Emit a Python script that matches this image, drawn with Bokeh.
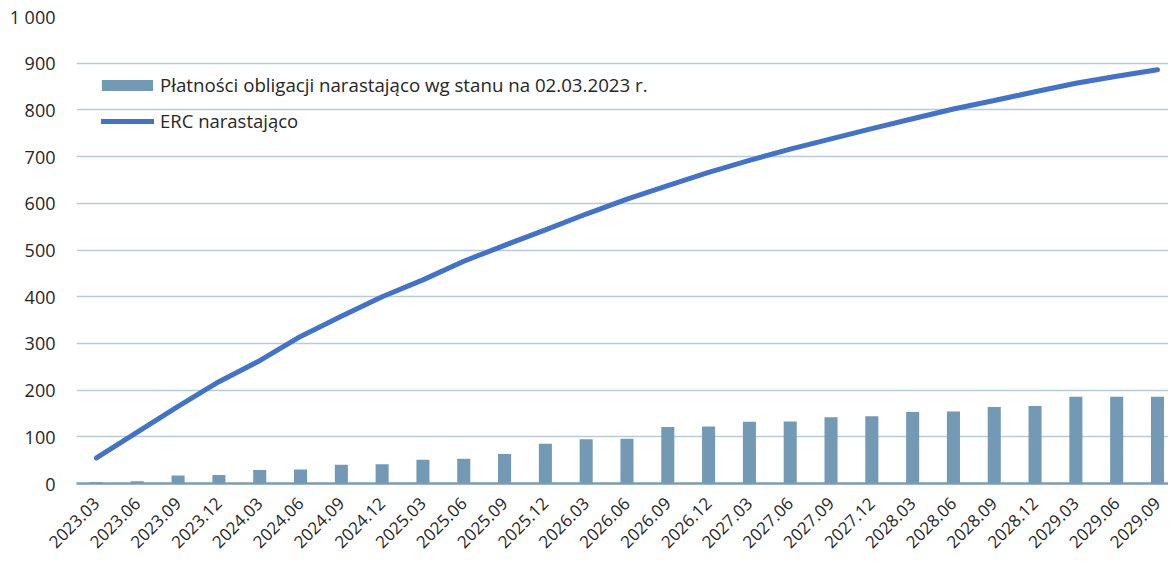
from math import pi
from bokeh.plotting import figure
from bokeh.models import ColumnDataSource, Range1d, FixedTicker, Legend, LegendItem
from bokeh.embed import file_html
from bokeh.resources import INLINE

categories = ["2023.03", "2023.06", "2023.09", "2023.12", "2024.03", "2024.06", "2024.09", "2024.12",
              "2025.03", "2025.06", "2025.09", "2025.12", "2026.03", "2026.06", "2026.09", "2026.12",
              "2027.03", "2027.06", "2027.09", "2027.12", "2028.03", "2028.06", "2028.09", "2028.12",
              "2029.03", "2029.06", "2029.09"]
bond_payments = [3, 5, 17, 18, 29, 30, 40, 41, 51, 53, 63, 85, 95, 96, 121, 122, 132, 133, 142, 144,
                 153, 154, 164, 166, 186, 186, 186]
erc_cumulative = [55, 110, 165, 218, 263, 315, 358, 400, 436, 476, 510, 543, 577, 609, 638, 666, 692,
                  716, 738, 760, 781, 802, 820, 839, 857, 872, 886]
y_ticks = [0, 100, 200, 300, 400, 500, 600, 700, 800, 900, 1000]
y_labels = ["0", "100", "200", "300", "400", "500", "600", "700", "800", "900", "1 000"]
bond_label = "Płatności obligacji narastająco wg stanu na 02.03.2023 r."
erc_label = "ERC narastająco"

FONT = "Open Sans"
TEXT = "#262626"
idx = list(range(len(categories)))
src = ColumnDataSource(dict(x=idx, bonds=bond_payments, erc=erc_cumulative))

p = figure(frame_width=1092, frame_height=467, output_backend="svg", toolbar_location=None,
           x_range=Range1d(-0.49, 26.27), y_range=Range1d(0, 1000),
           min_border_left=76, min_border_right=0, min_border_top=16, min_border_bottom=20)
p.outline_line_color = None
p.background_fill_color = "white"

bars = p.vbar(x="x", top="bonds", width=0.32, source=src, fill_color="#7399b4", line_color=None)
line = p.line(x="x", y="erc", source=src, line_color="#4472c4", line_width=5, line_cap="round")

p.xgrid.grid_line_color = None
p.ygrid.grid_line_color = "#b7cbdb"
p.ygrid.grid_line_width = 1.5
p.ygrid.ticker = FixedTicker(ticks=y_ticks)

p.yaxis.ticker = FixedTicker(ticks=y_ticks)
p.yaxis.major_label_overrides = {t: l for t, l in zip(y_ticks, y_labels)}
p.yaxis.axis_line_color = None
p.yaxis.major_tick_line_color = None
p.yaxis.minor_tick_line_color = None
p.yaxis.major_tick_out = 0
p.yaxis.major_tick_in = 0
p.yaxis.minor_tick_out = 0
p.yaxis.major_label_standoff = 21
p.yaxis.major_label_text_font = FONT
p.yaxis.major_label_text_font_size = "18px"
p.yaxis.major_label_text_color = TEXT

p.xaxis.ticker = FixedTicker(ticks=idx)
p.xaxis.major_label_overrides = {i: c for i, c in zip(idx, categories)}
p.xaxis.major_label_orientation = pi / 4
p.xaxis.axis_line_color = "#7b9bb6"
p.xaxis.axis_line_width = 2.5
p.xaxis.major_tick_line_color = None
p.xaxis.minor_tick_line_color = None
p.xaxis.major_tick_out = 0
p.xaxis.major_tick_in = 0
p.xaxis.minor_tick_out = 0
p.xaxis.major_label_standoff = 17
p.xaxis.major_label_text_font = FONT
p.xaxis.major_label_text_font_size = "17px"
p.xaxis.major_label_text_color = TEXT


def make_legend(item, loc, gw, gh, standoff, size):
    lg = Legend(items=[item], location=loc)
    lg.background_fill_alpha = 0
    lg.border_line_color = None
    lg.padding = 0
    lg.margin = 0
    lg.glyph_width = gw
    lg.glyph_height = gh
    lg.label_height = 20
    lg.label_standoff = standoff
    lg.label_text_font = FONT
    lg.label_text_font_size = size
    lg.label_text_color = TEXT
    return lg


# frame height 467; legend tuple location = bottom-left of legend from frame bottom-left
p.add_layout(make_legend(LegendItem(label=bond_label, renderers=[bars]), (19, 386), 64, 14, 1, "18.7px"))
p.add_layout(make_legend(LegendItem(label=erc_label, renderers=[line]), (25, 350), 53, 20, 6, "18.5px"))

open("out.html", "w").write(file_html(p, INLINE))
